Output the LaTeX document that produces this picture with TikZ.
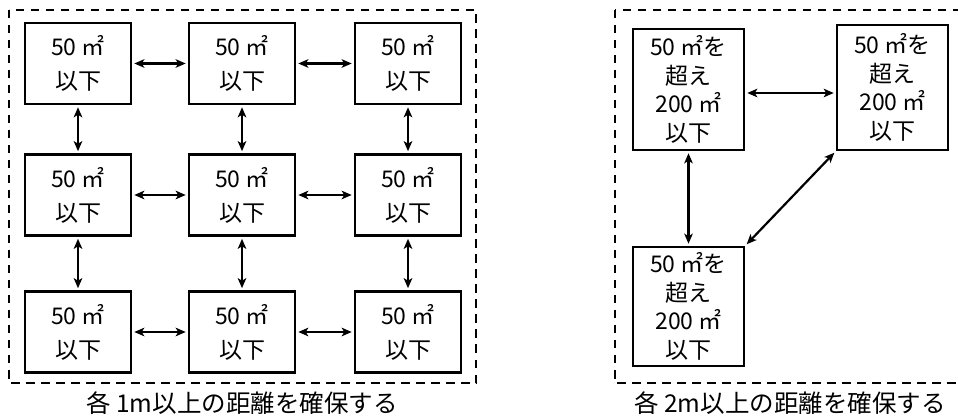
\documentclass[tikz,border=0pt]{standalone}
\usepackage{fontspec}
\setmainfont{Noto Sans CJK JP}
\usetikzlibrary{arrows.meta}
\tikzset{
  room/.style={draw, line width=2.6pt, inner sep=0pt, align=center, minimum width=106pt, minimum height=81pt, font=\fontsize{23}{34}\selectfont},
  bigroom/.style={draw, line width=2.6pt, inner sep=0pt, align=center, minimum width=111pt, font=\fontsize{23}{28.5}\selectfont},
  link/.style={line width=2.2pt, {Stealth[length=10pt,width=8.5pt,inset=2.5pt]}-{Stealth[length=10pt,width=8.5pt,inset=2.5pt]}, shorten <=2pt, shorten >=2pt},
  zone/.style={line width=2.4pt, dash pattern=on 8.5pt off 6.5pt},
  caption/.style={font=\fontsize{24.5}{27}\selectfont, inner sep=0pt}
}
\begin{document}
\begin{tikzpicture}[x=1pt,y=-1pt]
\clip (0,0) rectangle (958,419);
% zones
\draw[zone] (9,10) rectangle (476,383);
\draw[zone] (615,10) rectangle (970,383);
% left grid
\foreach \c/\x in {1/78,2/242,3/408}{
  \foreach \r/\y in {1/63.5,2/195,3/332}{
    \node[room] (n\r\c) at (\x,\y) {50 ㎡\\以下};
  }
}
\foreach \r in {1,2,3}{
  \draw[link] (n\r1.east) -- (n\r2.west);
  \draw[link] (n\r2.east) -- (n\r3.west);
}
\foreach \c in {1,2,3}{
  \draw[link] (n1\c.south) -- (n2\c.north);
  \draw[link] (n2\c.south) -- (n3\c.north);
}
\node[caption] (capL) at (242,403) {各 1m以上の距離を確保する};
% right group
\node[bigroom, minimum height=121pt] (A) at (688.5,89.5) {50 ㎡を\\超え\\200 ㎡\\以下};
\node[bigroom, minimum height=125pt] (B) at (892.5,87.5) {50 ㎡を\\超え\\200 ㎡\\以下};
\node[bigroom, minimum height=119pt] (C) at (688.5,306.5) {50 ㎡を\\超え\\200 ㎡\\以下};
\draw[link] ([yshift=-3.5pt]A.east) -- ([yshift=-5.5pt]B.west);
\draw[link] (A.south) -- (C.north);
\draw[link] (C.north east) -- (B.south west);
\node[caption] (capR) at (790,403) {各 2m以上の距離を確保する};
\end{tikzpicture}
\end{document}
